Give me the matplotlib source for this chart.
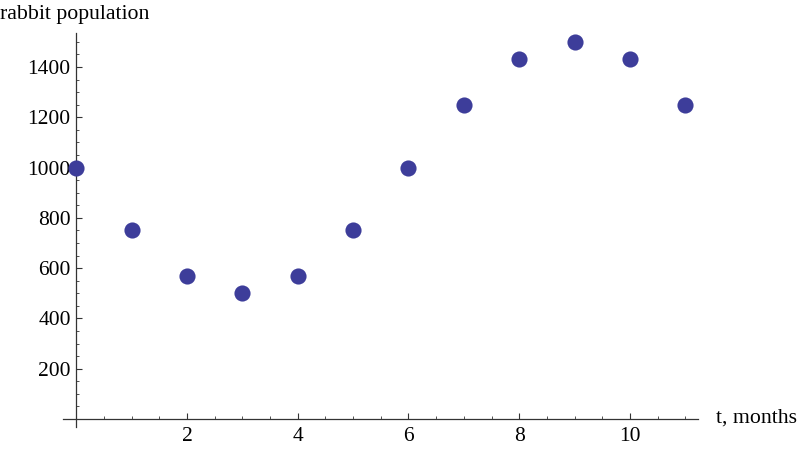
import matplotlib
matplotlib.use("Agg")
import matplotlib.pyplot as plt
from matplotlib.ticker import MultipleLocator

t_months = [0, 1, 2, 3, 4, 5, 6, 7, 8, 9, 10, 11]
population = [1000, 750, 567, 500, 567, 750, 1000, 1250, 1433, 1500, 1433, 1250]
x_label = "t, months"
y_label = "rabbit population"

plt.rcParams['font.family'] = ['Liberation Serif', 'DejaVu Serif']

W, H = 800, 449
fig = plt.figure(figsize=(W / 100, H / 100), dpi=100)
left, right, top, bottom = 63, 698, 33, 427
ax = fig.add_axes([left / W, 1 - bottom / H, (right - left) / W, (bottom - top) / H])
ax.set_xlim(-0.24, 11.23)
ax.set_ylim(-32, 1535)

ax.scatter(t_months, population, s=135, color='#3d3d9a', zorder=3, clip_on=False, linewidths=0)

for s in ['top', 'right']:
    ax.spines[s].set_visible(False)
ax.spines['left'].set_position(('data', 0))
ax.spines['bottom'].set_position(('data', 0))
for s in ['left', 'bottom']:
    ax.spines[s].set_linewidth(0.9)
    ax.spines[s].set_color('#333333')
ax.spines['left'].set_bounds(-32, 1535)
ax.spines['bottom'].set_bounds(-0.24, 11.23)

ax.xaxis.set_major_locator(MultipleLocator(2))
ax.xaxis.set_minor_locator(MultipleLocator(0.5))
ax.yaxis.set_major_locator(MultipleLocator(200))
ax.yaxis.set_minor_locator(MultipleLocator(50))
ax.set_xticks([2, 4, 6, 8, 10])
ax.set_yticks([200, 400, 600, 800, 1000, 1200, 1400])
ax.tick_params(which='major', direction='in', length=4, width=0.8, color='#333333', labelsize=15.5, pad=6)
ax.tick_params(which='minor', direction='in', length=2.2, width=0.6, color='#333333')
ax.tick_params(axis='y', pad=4)

fig.text(0 / W, 1 - 14 / H, y_label, fontsize=15.7, ha='left', va='center')
fig.text(716 / W, 1 - 418 / H, x_label, fontsize=15.7, ha='left', va='center')

fig.savefig("out.png", dpi=100)
